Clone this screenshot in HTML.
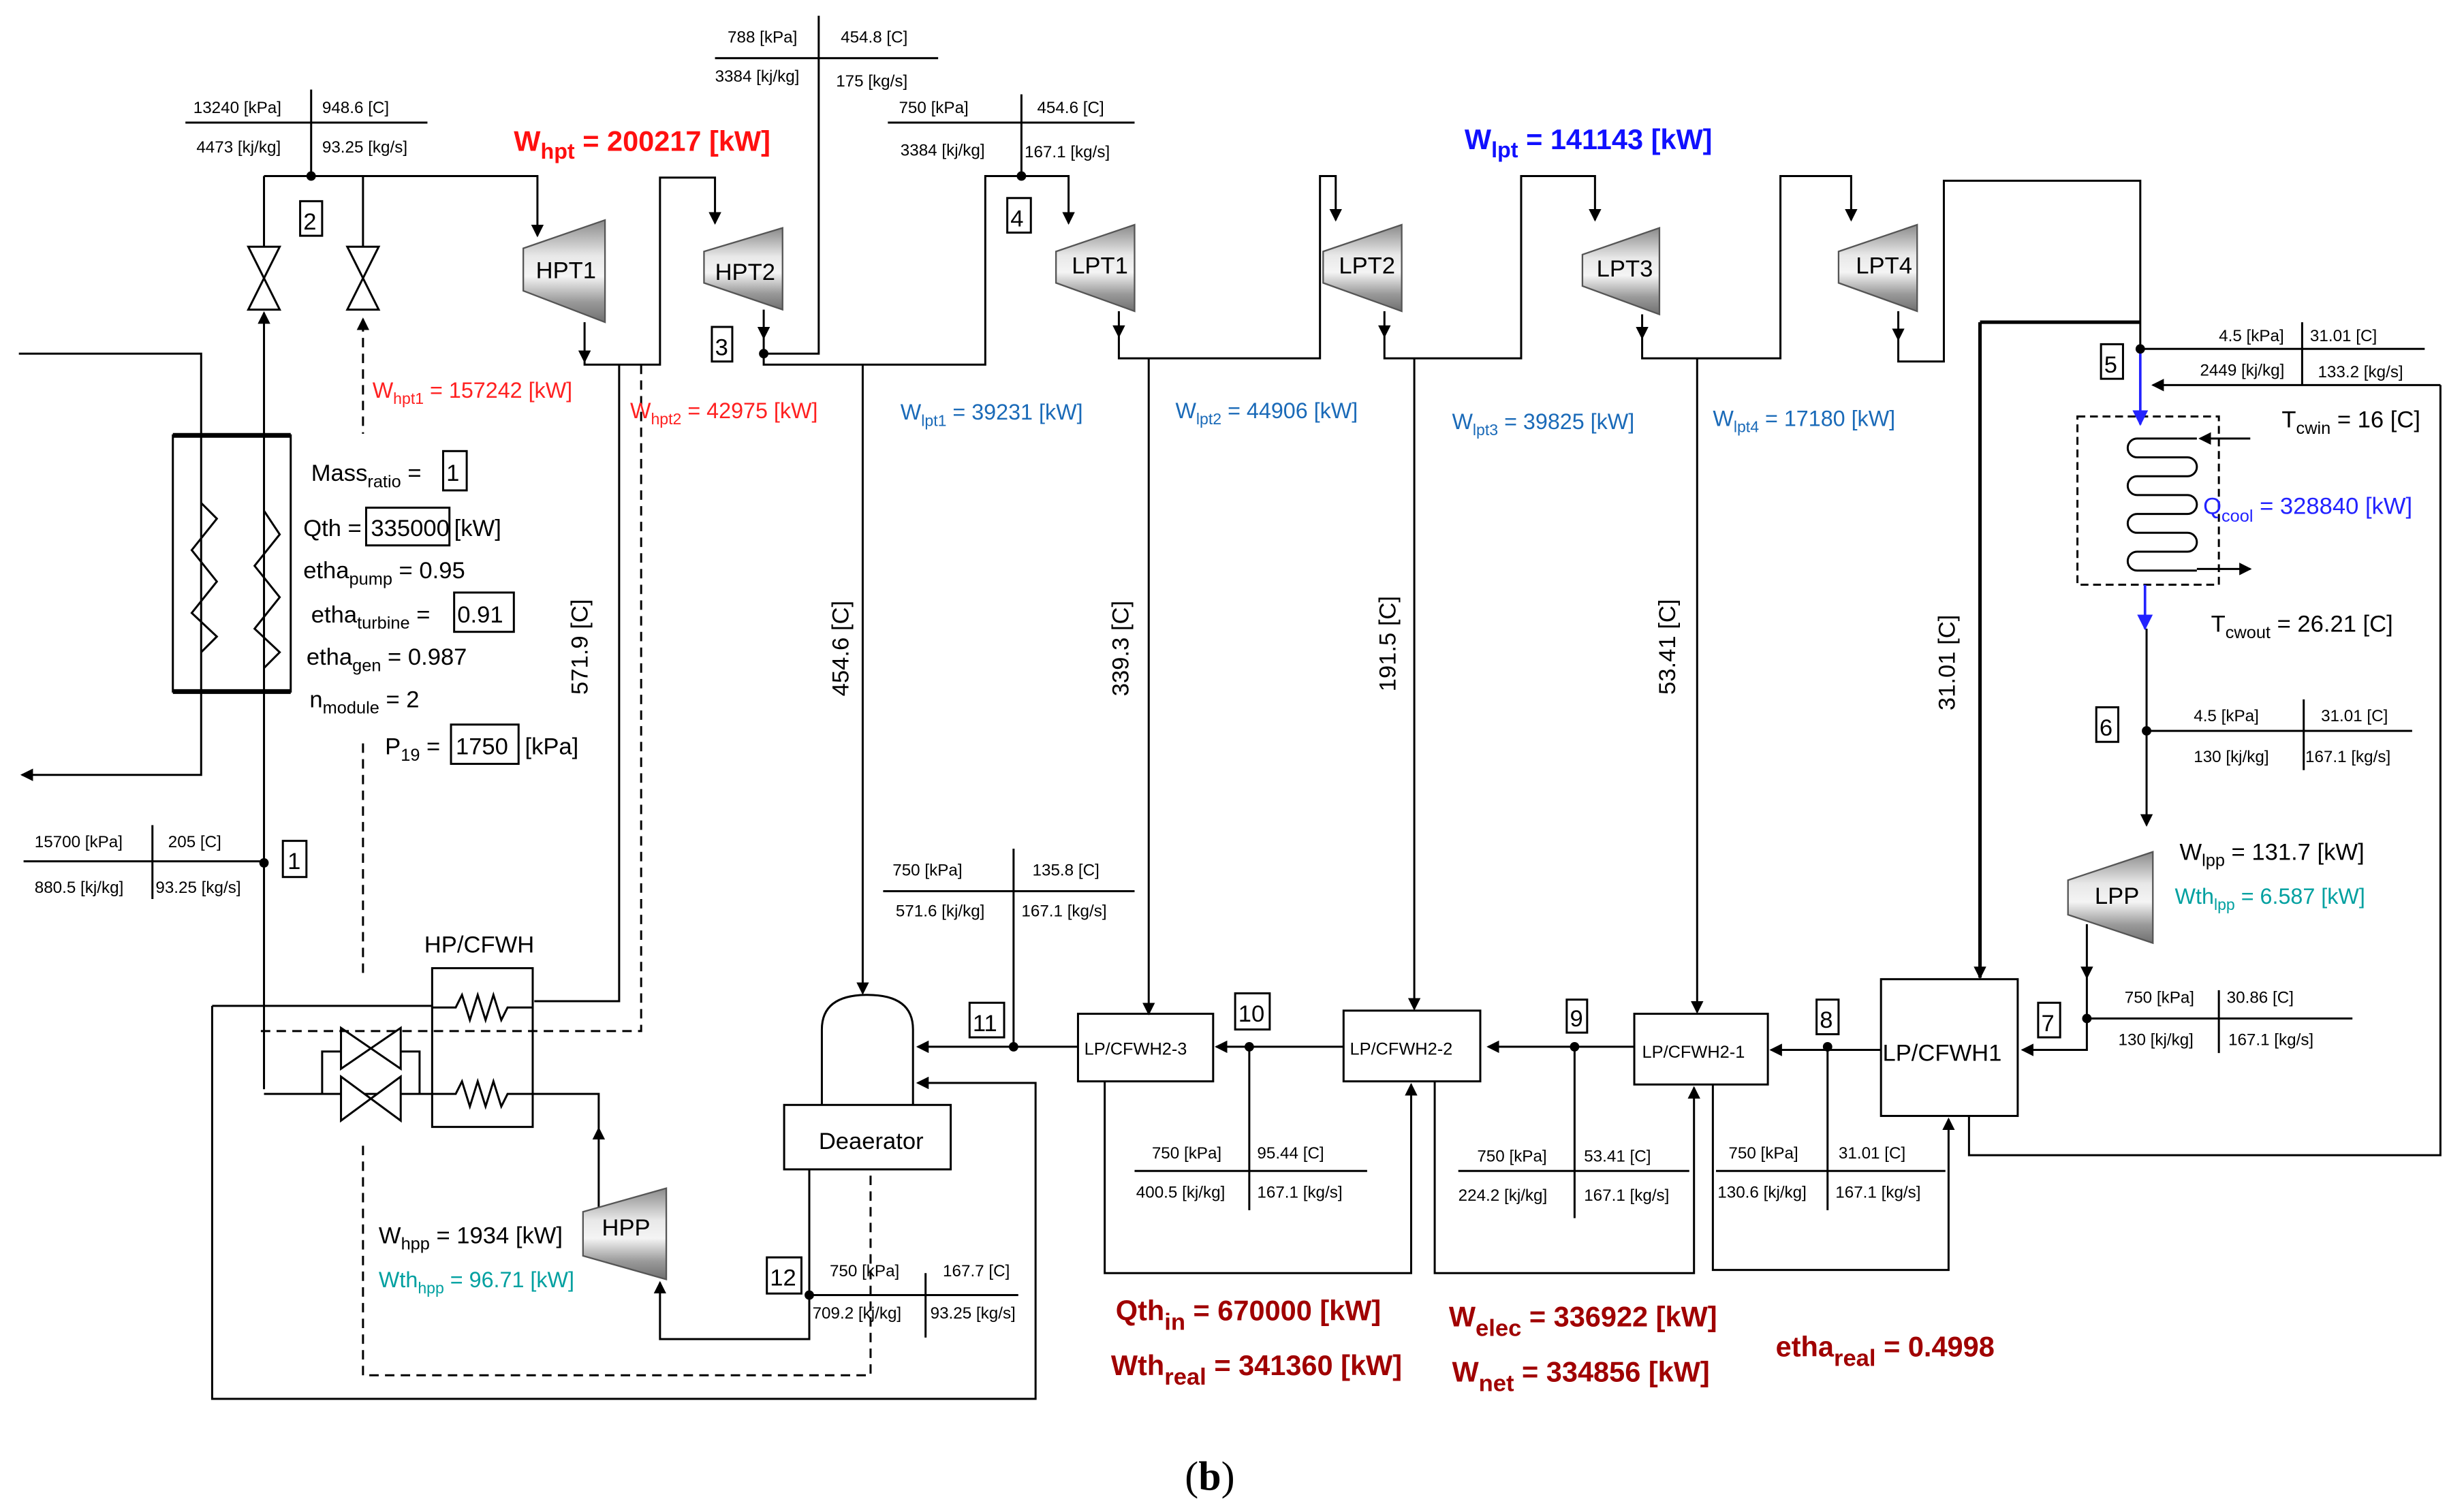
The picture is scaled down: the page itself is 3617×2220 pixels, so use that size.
<!DOCTYPE html>
<html><head><meta charset="utf-8"><style>
html,body{margin:0;padding:0;background:#fff;}
svg{display:block;}
text{font-family:"Liberation Sans Narrow","Liberation Sans",sans-serif;}
.s{font-size:10.5px;fill:#000;}
.m{font-size:15px;fill:#000;}
.p{font-family:"Liberation Sans",sans-serif;font-size:15px;fill:#000;}
.r{font-size:14px;fill:#ff2020;}
.b{font-size:14px;fill:#1a6ab8;}
.t{font-size:14px;fill:#00a0a0;}
.dr{font-size:18px;font-weight:bold;fill:#a00000;}
</style></head><body>
<svg width="3617" height="2220" viewBox="0 0 1568 962" preserveAspectRatio="none" xmlns="http://www.w3.org/2000/svg">
<defs>
<linearGradient id="g" x1="0" y1="0" x2="0" y2="1">
<stop offset="0" stop-color="#8a8a8a"/><stop offset="0.35" stop-color="#e8e8e8"/><stop offset="0.55" stop-color="#f4f4f4"/><stop offset="0.8" stop-color="#9a9a9a"/><stop offset="1" stop-color="#707070"/>
</linearGradient>
<marker id="a" markerWidth="8" markerHeight="8" refX="7" refY="4" orient="auto" markerUnits="userSpaceOnUse"><path d="M0,0 L8,4 L0,8 z" fill="#000"/></marker>
<marker id="ab" markerWidth="10" markerHeight="10" refX="9" refY="5" orient="auto" markerUnits="userSpaceOnUse"><path d="M0,0 L10,5 L0,10 z" fill="#2222ff"/></marker>
</defs>
<rect width="1568" height="962" fill="#fff"/>
<g fill="none" stroke="#000" stroke-width="1.3">
<path d="M198,57 V112 M118,78 H272"/>
<path d="M15,548 H168 M97,525 V572"/>
<path d="M168,112 H342 V150" marker-end="url(#a)"/>
<path d="M168,112 V157 M231,112 V157"/>
<path d="M158,157 H178 L158,197 H178 Z M221,157 H241 L221,197 H241 Z" fill="#fff"/>
<path d="M168,440 V199" marker-end="url(#a)"/>
<path d="M168,693 V440"/>
<path d="M12,225 H128 V493 H14" marker-end="url(#a)"/>
<rect x="110" y="277" width="75" height="163"/>
<path d="M110,277 H185 M110,440 H185" stroke-width="3"/>
<path d="M128,320 L138,330 L122,350 L138,370 L122,390 L138,405 L128,415 M168,325 L178,340 L162,360 L178,380 L162,400 L178,415 L168,425"/>
<path d="M372,205 V230" marker-end="url(#a)"/>
<path d="M372,230 V232 H420 V113 H455 V142" marker-end="url(#a)"/>
<path d="M394,232 V637 H340"/>
<path d="M486,197 V215" marker-end="url(#a)"/>
<path d="M486,215 V232 H627 V112 H680 V142" marker-end="url(#a)"/>
<path d="M486,225 H521 V10 M455,37 H597"/>
<path d="M650,60 V112 M565,78 H722"/>
<path d="M549,232 V632" marker-end="url(#a)"/>
<path d="M712,198 V214" marker-end="url(#a)"/>
<path d="M712,214 V228 H840 V112 H850 V140" marker-end="url(#a)"/>
<path d="M731,228 V645" marker-end="url(#a)"/>
<path d="M881,198 V214" marker-end="url(#a)"/>
<path d="M881,214 V228 H968 V112 H1015 V140" marker-end="url(#a)"/>
<path d="M900,228 V642" marker-end="url(#a)"/>
<path d="M1045,200 V215" marker-end="url(#a)"/>
<path d="M1045,215 V228 H1133 V112 H1178 V140" marker-end="url(#a)"/>
<path d="M1080,228 V644" marker-end="url(#a)"/>
<path d="M1208,198 V216" marker-end="url(#a)"/>
<path d="M1208,216 V230 H1237 V115 H1362 V222"/>
<path d="M1260,205 H1362 M1260,205 V622" stroke-width="2.2" marker-end="url(#a)"/>
<path d="M1362,222 H1543 M1465,205 V245"/>
<path d="M1553,245 H1370" marker-end="url(#a)"/>
<path d="M1553,245 V735 H1253 V710"/>
<rect x="1322" y="265" width="90" height="107" stroke-dasharray="5,3"/>
<path d="M1432,279 H1400" marker-end="url(#a)"/>
<path d="M1398,279 H1360 a6,6 0 0 0 0,12 H1392 a6,6 0 0 1 0,12 H1360 a6,6 0 0 0 0,12 H1392 a6,6 0 0 1 0,12 H1360 a6,6 0 0 0 0,12 H1392 a6,6 0 0 1 0,12 H1360 a6,6 0 0 0 0,12 H1398"/>
<path d="M1398,362 H1432" marker-end="url(#a)"/>
<path d="M1366,400 V525" marker-end="url(#a)"/>
<path d="M1366,465 H1535 M1466,445 V490"/>
<path d="M1328,588 V622" marker-end="url(#a)"/>
<path d="M1328,622 V668 H1287" marker-end="url(#a)"/>
<path d="M1328,648 H1497 M1412,630 V670"/>
<rect x="1197" y="623" width="87" height="87"/>
<path d="M1197,668 H1127" marker-end="url(#a)"/>
<path d="M1163,665 V770 M1092,745 H1238"/>
<path d="M1090,690 V808 H1240 V712" marker-end="url(#a)"/>
<rect x="1040" y="645" width="85" height="45"/>
<path d="M1040,666 H947" marker-end="url(#a)"/>
<path d="M1002,666 V775 M928,745 H1075"/>
<path d="M913,688 V810 H1078 V692" marker-end="url(#a)"/>
<rect x="855" y="643" width="87" height="45"/>
<path d="M855,666 H774" marker-end="url(#a)"/>
<path d="M795,666 V770 M722,745 H870"/>
<path d="M703,688 V810 H898 V690" marker-end="url(#a)"/>
<rect x="686" y="645" width="86" height="43"/>
<path d="M686,666 H584" marker-end="url(#a)"/>
<path d="M645,540 V666 M562,567 H722"/>
<path d="M523,703 V655 Q523,633 552,633 Q581,633 581,655 V703" fill="#fff"/>
<rect x="499" y="703" width="106" height="41"/>
<path d="M135,640 V890 H659 V689 H584" marker-end="url(#a)"/>
<path d="M135,640 H275"/>
<path d="M515,744 V852 H420 V816" marker-end="url(#a)"/>
<path d="M515,824 H648 M589,810 V851"/>
<path d="M381,768 V718" marker-end="url(#a)"/>
<path d="M381,718 V696 H339"/>
<rect x="275" y="616" width="64" height="101"/>
<path d="M275,641 H290 L294,633 L299,649 L304,633 L309,649 L314,633 L319,649 L323,641 H339"/>
<path d="M275,696 H290 L294,688 L299,704 L304,688 L309,704 L314,688 L319,704 L323,696 H339"/>
<path d="M168,696 H275"/>
<path d="M205,696 V669 H217 M255,669 H267 V696"/>
<path d="M217,654 L255,680 V654 L217,680 Z M217,685 L255,713 V685 L217,713 Z" fill="#fff"/>
<g stroke-dasharray="6,4">
<path d="M231,205 V276 M231,473 V620 M408,232 V656 H163 M231,729 V875 H554 V747"/>
</g>
<path d="M231,210 V203" marker-end="url(#a)"/>
</g>
<path d="M1362,222 V270" stroke="#2222ff" stroke-width="1.6" marker-end="url(#ab)"/>
<path d="M1365,372 V400" stroke="#2222ff" stroke-width="1.6" marker-end="url(#ab)"/>
<g stroke="#555" stroke-width="1" fill="url(#g)">
<path d="M333,158 L385,140 V205 L333,185 Z"/>
<path d="M448,160 L498,145 V197 L448,180 Z"/>
<path d="M672,160 L722,143 V198 L672,180 Z"/>
<path d="M842,160 L892,143 V198 L842,180 Z"/>
<path d="M1007,162 L1056,145 V200 L1007,182 Z"/>
<path d="M1170,160 L1220,143 V198 L1170,180 Z"/>
<path d="M1316,560 L1370,542 V600 L1316,582 Z"/>
<path d="M371,771 L424,756 V814 L371,799 Z"/>
</g>
<g fill="#000">
<circle cx="198" cy="112" r="3"/><circle cx="486" cy="225" r="3"/><circle cx="650" cy="112" r="3"/>
<circle cx="1362" cy="222" r="3"/><circle cx="1366" cy="465" r="3"/><circle cx="1328" cy="648" r="3"/>
<circle cx="1163" cy="666" r="3"/><circle cx="1002" cy="666" r="3"/><circle cx="795" cy="666" r="3"/>
<circle cx="645" cy="666" r="3"/><circle cx="515" cy="824" r="3"/><circle cx="168" cy="549" r="3"/>
</g>
<g fill="#fff" stroke="#000" stroke-width="1.3">
<rect x="191" y="128" width="14" height="22"/><rect x="453" y="208" width="13" height="22"/><rect x="641" y="126" width="15" height="22"/>
<rect x="1337" y="219" width="14" height="22"/><rect x="1334" y="450" width="14" height="22"/><rect x="1297" y="638" width="14" height="22"/>
<rect x="1156" y="636" width="14" height="22"/><rect x="997" y="636" width="13" height="21"/><rect x="786" y="632" width="22" height="23"/>
<rect x="617" y="638" width="22" height="22"/><rect x="488" y="800" width="22" height="23"/><rect x="180" y="535" width="15" height="23"/>
<rect x="282" y="287" width="15" height="25"/><rect x="233" y="323" width="53" height="24"/><rect x="289" y="377" width="38" height="25"/><rect x="287" y="461" width="43" height="25"/>
</g>
<g>
<text x="193" y="146" class="m">2</text><text x="455" y="226" class="m">3</text><text x="643" y="144" class="m">4</text>
<text x="1339" y="237" class="m">5</text><text x="1336" y="468" class="m">6</text><text x="1299" y="656" class="m">7</text>
<text x="1158" y="654" class="m">8</text><text x="999" y="653" class="m">9</text><text x="788" y="650" class="m">10</text>
<text x="619" y="656" class="m">11</text><text x="490" y="818" class="m">12</text><text x="183" y="553" class="m">1</text>
</g>
<g>
<text x="341" y="177" class="m">HPT1</text><text x="455" y="178" class="m">HPT2</text><text x="682" y="174" class="m">LPT1</text>
<text x="852" y="174" class="m">LPT2</text><text x="1016" y="176" class="m">LPT3</text><text x="1181" y="174" class="m">LPT4</text>
<text x="1333" y="575" class="m">LPP</text><text x="383" y="786" class="m">HPP</text>
<text x="270" y="606" class="m">HP/CFWH</text><text x="521" y="731" class="m">Deaerator</text>
<text x="1198" y="675" class="m">LP/CFWH1</text>
</g>
<text x="690" y="671" style="font-size:11px">LP/CFWH2-3</text>
<text x="859" y="671" style="font-size:11px">LP/CFWH2-2</text>
<text x="1045" y="673" style="font-size:11px">LP/CFWH2-1</text>
<g class="s">
<text x="123" y="72">13240 [kPa]</text><text x="205" y="72">948.6 [C]</text><text x="125" y="97">4473 [kj/kg]</text><text x="205" y="97">93.25 [kg/s]</text>
<text x="463" y="27">788 [kPa]</text><text x="535" y="27">454.8 [C]</text><text x="455" y="52">3384 [kj/kg]</text><text x="532" y="55">175 [kg/s]</text>
<text x="572" y="72">750 [kPa]</text><text x="660" y="72">454.6 [C]</text><text x="573" y="99">3384 [kj/kg]</text><text x="652" y="100">167.1 [kg/s]</text>
<text x="1412" y="217">4.5 [kPa]</text><text x="1470" y="217">31.01 [C]</text><text x="1400" y="239">2449 [kj/kg]</text><text x="1475" y="240">133.2 [kg/s]</text>
<text x="1396" y="459">4.5 [kPa]</text><text x="1477" y="459">31.01 [C]</text><text x="1396" y="485">130 [kj/kg]</text><text x="1467" y="485">167.1 [kg/s]</text>
<text x="1352" y="638">750 [kPa]</text><text x="1417" y="638">30.86 [C]</text><text x="1348" y="665">130 [kj/kg]</text><text x="1418" y="665">167.1 [kg/s]</text>
<text x="1100" y="737">750 [kPa]</text><text x="1170" y="737">31.01 [C]</text><text x="1093" y="762">130.6 [kj/kg]</text><text x="1168" y="762">167.1 [kg/s]</text>
<text x="940" y="739">750 [kPa]</text><text x="1008" y="739">53.41 [C]</text><text x="928" y="764">224.2 [kj/kg]</text><text x="1008" y="764">167.1 [kg/s]</text>
<text x="733" y="737">750 [kPa]</text><text x="800" y="737">95.44 [C]</text><text x="723" y="762">400.5 [kj/kg]</text><text x="800" y="762">167.1 [kg/s]</text>
<text x="568" y="557">750 [kPa]</text><text x="657" y="557">135.8 [C]</text><text x="570" y="583">571.6 [kj/kg]</text><text x="650" y="583">167.1 [kg/s]</text>
<text x="528" y="812">750 [kPa]</text><text x="600" y="812">167.7 [C]</text><text x="517" y="839">709.2 [kj/kg]</text><text x="592" y="839">93.25 [kg/s]</text>
<text x="22" y="539">15700 [kPa]</text><text x="107" y="539">205 [C]</text><text x="22" y="568">880.5 [kj/kg]</text><text x="99" y="568">93.25 [kg/s]</text>
</g>
<g style="font-family:'Liberation Sans',sans-serif;font-size:15px">
<text transform="translate(374,442) rotate(-90)">571.9 [C]</text>
<text transform="translate(540,443) rotate(-90)">454.6 [C]</text>
<text transform="translate(718,443) rotate(-90)">339.3 [C]</text>
<text transform="translate(888,440) rotate(-90)">191.5 [C]</text>
<text transform="translate(1066,442) rotate(-90)">53.41 [C]</text>
<text transform="translate(1244,452) rotate(-90)">31.01 [C]</text>
</g>
<text class="p" x="198" y="306">Mass<tspan font-size="11" dy="4">ratio</tspan><tspan dy="-4"> =</tspan></text>
<text class="p" x="284" y="306">1</text>
<text class="p" x="193" y="341">Qth =</text><text class="p" x="236" y="341">335000</text><text class="p" x="289" y="341">[kW]</text>
<text class="p" x="193" y="368">etha<tspan font-size="11" dy="4">pump</tspan><tspan dy="-4"> = 0.95</tspan></text>
<text class="p" x="198" y="396">etha<tspan font-size="11" dy="4">turbine</tspan><tspan dy="-4"> =</tspan></text>
<text class="p" x="291" y="396">0.91</text>
<text class="p" x="195" y="423">etha<tspan font-size="11" dy="4">gen</tspan><tspan dy="-4"> = 0.987</tspan></text>
<text class="p" x="197" y="450">n<tspan font-size="11" dy="4">module</tspan><tspan dy="-4"> = 2</tspan></text>
<text class="p" x="245" y="480">P<tspan font-size="11" dy="4">19</tspan><tspan dy="-4"> =</tspan></text>
<text class="p" x="290" y="480">1750</text><text class="p" x="334" y="480">[kPa]</text>
<text x="327" y="96" style="font-size:18px;font-weight:bold;fill:#ff1010">W<tspan font-size="14" dy="5">hpt</tspan><tspan dy="-5"> = 200217 [kW]</tspan></text>
<text x="932" y="95" style="font-size:18px;font-weight:bold;fill:#1010ff">W<tspan font-size="14" dy="5">lpt</tspan><tspan dy="-5"> = 141143 [kW]</tspan></text>
<text class="r" x="237" y="253">W<tspan font-size="10" dy="4">hpt1</tspan><tspan dy="-4"> = 157242 [kW]</tspan></text>
<text class="r" x="401" y="266">W<tspan font-size="10" dy="4">hpt2</tspan><tspan dy="-4"> = 42975 [kW]</tspan></text>
<text class="b" x="573" y="267">W<tspan font-size="10" dy="4">lpt1</tspan><tspan dy="-4"> = 39231 [kW]</tspan></text>
<text class="b" x="748" y="266">W<tspan font-size="10" dy="4">lpt2</tspan><tspan dy="-4"> = 44906 [kW]</tspan></text>
<text class="b" x="924" y="273">W<tspan font-size="10" dy="4">lpt3</tspan><tspan dy="-4"> = 39825 [kW]</tspan></text>
<text class="b" x="1090" y="271">W<tspan font-size="10" dy="4">lpt4</tspan><tspan dy="-4"> = 17180 [kW]</tspan></text>
<text class="m" x="1452" y="272">T<tspan font-size="11" dy="4">cwin</tspan><tspan dy="-4"> = 16 [C]</tspan></text>
<text x="1402" y="327" style="font-size:15px;fill:#2222ff">Q<tspan font-size="11" dy="5">cool</tspan><tspan dy="-5"> = 328840 [kW]</tspan></text>
<text class="m" x="1407" y="402">T<tspan font-size="11" dy="4">cwout</tspan><tspan dy="-4"> = 26.21 [C]</tspan></text>
<text class="m" x="1387" y="547">W<tspan font-size="11" dy="4">lpp</tspan><tspan dy="-4"> = 131.7 [kW]</tspan></text>
<text class="t" x="1384" y="575">Wth<tspan font-size="10" dy="4">lpp</tspan><tspan dy="-4"> = 6.587 [kW]</tspan></text>
<text class="m" x="241" y="791">W<tspan font-size="11" dy="4">hpp</tspan><tspan dy="-4"> = 1934 [kW]</tspan></text>
<text class="t" x="241" y="819">Wth<tspan font-size="10" dy="4">hpp</tspan><tspan dy="-4"> = 96.71 [kW]</tspan></text>
<text class="dr" x="710" y="840">Qth<tspan font-size="15" dy="6">in</tspan><tspan dy="-6"> = 670000 [kW]</tspan></text>
<text class="dr" x="707" y="875">Wth<tspan font-size="15" dy="6">real</tspan><tspan dy="-6"> = 341360 [kW]</tspan></text>
<text class="dr" x="922" y="844">W<tspan font-size="15" dy="6">elec</tspan><tspan dy="-6"> = 336922 [kW]</tspan></text>
<text class="dr" x="924" y="879">W<tspan font-size="15" dy="6">net</tspan><tspan dy="-6"> = 334856 [kW]</tspan></text>
<text class="dr" x="1130" y="863">etha<tspan font-size="15" dy="6">real</tspan><tspan dy="-6"> = 0.4998</tspan></text>
<text x="754" y="948" style="font-family:'Liberation Serif',serif;font-size:26px;fill:#000">(<tspan font-weight="bold">b</tspan>)</text>
</svg>
</body></html>
